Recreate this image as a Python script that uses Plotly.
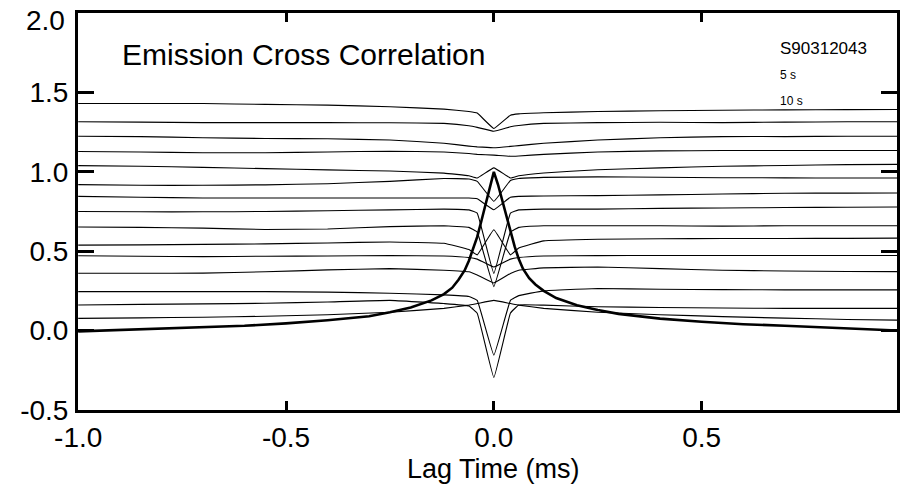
import plotly.graph_objects as go

# ---- data ----
lag_thin = [-1.0, -0.85, -0.7, -0.55, -0.4, -0.25, -0.12, -0.06, -0.04, 0.0,
            0.04, 0.06, 0.12, 0.25, 0.4, 0.55, 0.7, 0.85, 0.97]

thin_curves = [
    [1.43, 1.43, 1.43, 1.425, 1.42, 1.41, 1.395, 1.38, 1.37, 1.273, 1.357, 1.365, 1.372, 1.38, 1.385, 1.388, 1.39, 1.392, 1.393],
    [1.315, 1.313, 1.31, 1.31, 1.31, 1.309, 1.305, 1.29, 1.28, 1.256, 1.284, 1.292, 1.305, 1.31, 1.312, 1.31, 1.313, 1.315, 1.315],
    [1.224, 1.222, 1.215, 1.21, 1.208, 1.20, 1.18, 1.162, 1.157, 1.152, 1.16, 1.165, 1.18, 1.2, 1.215, 1.222, 1.222, 1.224, 1.224],
    [1.128, 1.125, 1.12, 1.12, 1.125, 1.13, 1.125, 1.115, 1.11, 1.105, 1.098, 1.1, 1.11, 1.125, 1.132, 1.134, 1.134, 1.134, 1.134],
    [1.039, 1.035, 1.028, 1.02, 1.012, 1.005, 0.992, 0.975, 0.961, 1.025, 0.961, 0.975, 0.993, 1.013, 1.025, 1.035, 1.04, 1.045, 1.047],
    [0.919, 0.915, 0.915, 0.918, 0.925, 0.94, 0.958, 0.955, 0.94, 0.814, 0.945, 0.958, 0.965, 0.968, 0.966, 0.963, 0.962, 0.961, 0.961],
    [0.845, 0.84, 0.835, 0.835, 0.835, 0.835, 0.835, 0.835, 0.83, 0.761, 0.84, 0.845, 0.848, 0.85, 0.855, 0.86, 0.865, 0.866, 0.867],
    [0.75, 0.748, 0.748, 0.75, 0.755, 0.76, 0.765, 0.76, 0.74, 0.36, 0.74, 0.76, 0.765, 0.765, 0.77, 0.772, 0.775, 0.777, 0.778],
    [0.652, 0.65, 0.645, 0.637, 0.64, 0.655, 0.66, 0.65, 0.62, 0.277, 0.62, 0.65, 0.66, 0.66, 0.66, 0.658, 0.66, 0.66, 0.66],
    [0.538, 0.54, 0.543, 0.546, 0.552, 0.558, 0.55, 0.51, 0.477, 0.635, 0.477, 0.52, 0.565, 0.575, 0.578, 0.58, 0.58, 0.581, 0.582],
    [0.471, 0.468, 0.466, 0.468, 0.47, 0.472, 0.47, 0.46, 0.45, 0.40, 0.45, 0.46, 0.47, 0.472, 0.473, 0.473, 0.473, 0.473, 0.473],
    [0.361, 0.361, 0.362, 0.37, 0.382, 0.39, 0.38, 0.37, 0.35, 0.30, 0.36, 0.38, 0.395, 0.40, 0.39, 0.38, 0.375, 0.372, 0.371],
    [0.245, 0.245, 0.245, 0.245, 0.242, 0.235, 0.225, 0.215, 0.19, -0.155, 0.19, 0.22, 0.25, 0.265, 0.26, 0.258, 0.256, 0.256, 0.256],
    [0.161, 0.165, 0.168, 0.172, 0.18, 0.19, 0.17, 0.155, 0.109, -0.296, 0.11, 0.161, 0.16, 0.15, 0.145, 0.142, 0.14, 0.14, 0.14],
    [0.077, 0.08, 0.084, 0.09, 0.1, 0.115, 0.14, 0.16, 0.17, 0.19, 0.17, 0.16, 0.14, 0.115, 0.1, 0.088, 0.078, 0.07, 0.066],
]

lag_thick = [-1.0, -0.9, -0.8, -0.7, -0.6, -0.5, -0.4, -0.3, -0.25, -0.2, -0.15, -0.12, -0.1,
             -0.085, -0.07, -0.06, -0.05, -0.04, -0.03, -0.02, -0.01, 0.0,
             0.01, 0.02, 0.03, 0.04, 0.05, 0.06, 0.07, 0.085, 0.1, 0.12, 0.15, 0.2, 0.25,
             0.3, 0.4, 0.5, 0.6, 0.7, 0.8, 0.9, 0.97]
thick_curve = [-0.005, 0.003, 0.01, 0.02, 0.03, 0.045, 0.065, 0.09, 0.115, 0.145, 0.19, 0.23, 0.27,
               0.32, 0.38, 0.44, 0.51, 0.59, 0.69, 0.80, 0.91, 1.0,
               0.92, 0.82, 0.72, 0.62, 0.53, 0.45, 0.39, 0.33, 0.29, 0.25, 0.205, 0.16, 0.13,
               0.105, 0.075, 0.055, 0.04, 0.03, 0.02, 0.01, 0.0]

x_ticks = [-1.0, -0.5, 0.0, 0.5]
x_ticktext = ["-1.0", "-0.5", "0.0", "0.5"]
y_ticks = [-0.5, 0.0, 0.5, 1.0, 1.5, 2.0]
y_ticktext = ["-0.5", "0.0", "0.5", "1.0", "1.5", ""]   # top label drawn as annotation below
y_top_label = "2.0"

FONT = "Liberation Sans, Arial, Helvetica, sans-serif"

fig = go.Figure()
for ys in thin_curves:
    fig.add_trace(go.Scatter(x=lag_thin, y=ys, mode="lines",
                             line=dict(color="black", width=1.1, shape="spline", smoothing=0.25),
                             showlegend=False, hoverinfo="skip"))
fig.add_trace(go.Scatter(x=lag_thick, y=thick_curve, mode="lines",
                         line=dict(color="black", width=2.6),
                         showlegend=False, hoverinfo="skip"))

axis_common = dict(showline=True, linecolor="black", linewidth=3, mirror="ticks",
                   ticks="inside", tickcolor="black", tickwidth=2.5,
                   showgrid=False, zeroline=False, ticklabeloverflow="allow",
                   automargin=False,
                   tickfont=dict(family=FONT, size=28, color="black"))

fig.update_xaxes(range=[-1.0005, 0.97], tickvals=x_ticks, ticktext=x_ticktext,
                 ticklen=9, ticklabelstandoff=0, **axis_common)
fig.update_yaxes(range=[-0.5005, 2.0005], tickvals=y_ticks, ticktext=y_ticktext,
                 ticklen=16, ticklabelstandoff=1, **axis_common)

annotations = [
    dict(text=y_top_label, x=-0.0135, y=0.982, xref="paper", yref="paper",
         xanchor="right", yanchor="middle", showarrow=False,
         font=dict(family=FONT, size=28, color="black")),
    dict(text="Emission Cross Correlation", x=-0.899, y=1.742, xref="x", yref="y",
         xanchor="left", yanchor="middle", showarrow=False,
         font=dict(family=FONT, size=30, color="black")),
    dict(text="S90312043", x=0.684, y=1.774, xref="x", yref="y",
         xanchor="left", yanchor="middle", showarrow=False,
         font=dict(family=FONT, size=17, color="black")),
    dict(text="5 s", x=0.684, y=1.61, xref="x", yref="y",
         xanchor="left", yanchor="middle", showarrow=False,
         font=dict(family=FONT, size=12, color="black")),
    dict(text="10 s", x=0.684, y=1.446, xref="x", yref="y",
         xanchor="left", yanchor="middle", showarrow=False,
         font=dict(family=FONT, size=12, color="black")),
    dict(text="Lag Time (ms)", x=0.0, y=-0.148, xref="x", yref="paper",
         xanchor="center", yanchor="middle", showarrow=False,
         font=dict(family=FONT, size=27, color="black")),
]

fig.update_layout(width=905, height=490,
                  margin=dict(l=78, r=8, t=13, b=80, autoexpand=False),
                  paper_bgcolor="white", plot_bgcolor="white",
                  annotations=annotations, showlegend=False)

fig.write_html("out.html")
